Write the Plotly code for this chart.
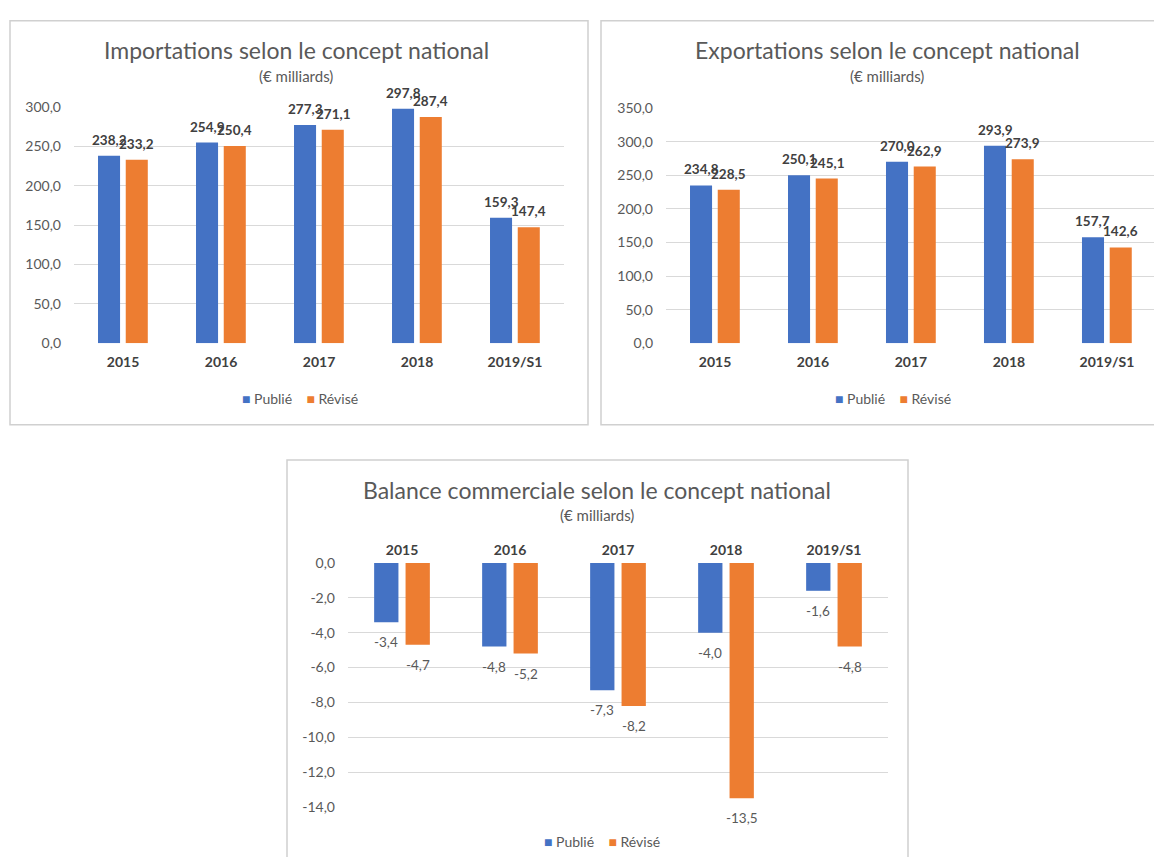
import plotly.graph_objects as go

# ---------------- data ----------------
categories = ["2015", "2016", "2017", "2018", "2019/S1"]
imports_publie = [238.2, 254.9, 277.3, 297.8, 159.3]
imports_revise = [233.2, 250.4, 271.1, 287.4, 147.4]
exports_publie = [234.8, 250.1, 270.0, 293.9, 157.7]
exports_revise = [228.5, 245.1, 262.9, 273.9, 142.6]
balance_publie = [-3.4, -4.8, -7.3, -4.0, -1.6]
balance_revise = [-4.7, -5.2, -8.2, -13.5, -4.8]
imports_ticks = [0, 50, 100, 150, 200, 250, 300]
exports_ticks = [0, 50, 100, 150, 200, 250, 300, 350]
balance_ticks = [0, -2, -4, -6, -8, -10, -12, -14]
series_names = ["Publié", "Révisé"]

W, H = 1154, 865
BLUE = "#4472C4"
ORANGE = "#ED7D31"
GRID = "#D9D9D9"
GREY = "#595959"
DARK = "#404040"
FONT = "Lato"


def fr(v):
    return f"{v:.1f}".replace(".", ",")


def px(x):
    return x / W


def py(y):
    return 1 - y / H


fig = go.Figure()

panels = [
    dict(ax="", pub=imports_publie, rev=imports_revise, bold=True,
         xdom=(74, 564), ydom=(341, 100), yr=[0, 300], ticks=imports_ticks,
         bw=0.225, off=(-0.255, 0.028), xrange=[-0.5, 4.5]),
    dict(ax="2", pub=exports_publie, rev=exports_revise, bold=True,
         xdom=(666, 1154), ydom=(341, 101), yr=[0, 350], ticks=exports_ticks,
         bw=0.225, off=(-0.255, 0.028), xrange=[-0.5, 4.48]),
    dict(ax="3", pub=balance_publie, rev=balance_revise, bold=False,
         xdom=(348, 888), ydom=(814, 565), yr=[-14, 0], ticks=balance_ticks,
         bw=0.225, off=(-0.258, 0.033), xrange=[-0.5, 4.5]),
]

for i, p in enumerate(panels):
    xa_len = p["xdom"][1] - p["xdom"][0]
    cat_px = xa_len / (p["xrange"][1] - p["xrange"][0])
    for j, (vals, color) in enumerate([(p["pub"], BLUE), (p["rev"], ORANGE)]):
        fig.add_trace(go.Bar(
            x=categories, y=vals, name=series_names[j],
            marker=dict(color=color, line=dict(width=0)),
            width=p["bw"], offset=p["off"][j],
            xaxis="x" + p["ax"], yaxis="y" + p["ax"],
            showlegend=False, hoverinfo="x+y+name",
        ))
        # data labels placed at each bar end (category index on the category axis)
        shift = (p["off"][j] + p["bw"] / 2) * cat_px
        for k, v in enumerate(vals):
            fig.add_annotation(
                x=k, y=v, xref="x" + p["ax"], yref="y" + p["ax"],
                text=fr(v), showarrow=False, xanchor="center", yanchor="middle",
                xshift=shift, yshift=16 if v >= 0 else -20,
                font=dict(family=FONT, size=13.5,
                          color=DARK if p["bold"] else GREY,
                          weight="bold" if p["bold"] else "normal"),
            )
    xa = dict(domain=[px(p["xdom"][0]), px(p["xdom"][1])], range=p["xrange"],
              type="category", categoryorder="array", categoryarray=categories,
              showgrid=False, zeroline=False, showline=False,
              ticks="", tickfont=dict(family=FONT, size=14, color=DARK, weight="bold"),
              anchor="y" + p["ax"], fixedrange=True)
    if p["ax"] == "3":
        xa.update(side="top", ticklabelstandoff=4)
    else:
        xa.update(ticklabelstandoff=9)
    ya = dict(domain=[py(p["ydom"][0]), py(p["ydom"][1])], range=p["yr"],
              tickvals=p["ticks"], ticktext=[fr(t) for t in p["ticks"]],
              showgrid=True, gridcolor=GRID, gridwidth=1, zeroline=False,
              showline=False, ticks="", ticklabelstandoff=12,
              tickfont=dict(family=FONT, size=14, color=GREY),
              anchor="x" + p["ax"], fixedrange=True)
    fig.update_layout(**{"xaxis" + p["ax"]: xa, "yaxis" + p["ax"]: ya})

# panel borders (third panel continues past the bottom edge)
BORDER = dict(color="#D0D0D0", width=1.5)
fig.add_shape(type="rect", xref="paper", yref="paper",
              x0=px(10), x1=px(588), y0=py(424), y1=py(12), line=BORDER, layer="below")
fig.add_shape(type="path", xref="paper", yref="paper",
              path=f"M {px(1160)},{py(424)} L {px(601)},{py(424)} L {px(601)},{py(12)} L {px(1160)},{py(12)}",
              line=BORDER, layer="below")
fig.add_shape(type="path", xref="paper", yref="paper",
              path=f"M {px(287)},{py(865)} L {px(287)},{py(460)} L {px(908)},{py(460)} L {px(908)},{py(865)}",
              line=BORDER, layer="below")

titles = [
    ("Importations selon le concept national", 296, 42, 68),
    ("Exportations selon le concept national", 887, 42, 68),
    ("Balance commerciale selon le concept national", 597, 491, 516),
]
for t, cx, ty, sy in titles:
    fig.add_annotation(text=t, x=px(cx), y=py(ty), xref="paper", yref="paper",
                       showarrow=False, xanchor="center", yanchor="middle",
                       font=dict(family=FONT, size=23, color=GREY, weight="normal"))
    fig.add_annotation(text="(€ milliards)", x=px(cx), y=py(sy), xref="paper", yref="paper",
                       showarrow=False, xanchor="center", yanchor="middle",
                       font=dict(family=FONT, size=15, color=GREY))

# compact legends (one per panel)
NB = "\u00a0"
legend_text = (f"<span style='color:{BLUE}'>■</span>{NB}{series_names[0]}{NB*4}"
               f"<span style='color:{ORANGE}'>■</span>{NB}{series_names[1]}")
for cx, cy in [(300, 397), (893, 397), (602, 849)]:
    fig.add_annotation(text=legend_text, x=px(cx), y=py(cy), xref="paper", yref="paper",
                       showarrow=False, xanchor="center", yanchor="middle",
                       font=dict(family=FONT, size=14, color=GREY))

fig.update_layout(
    width=W, height=H,
    margin=dict(l=0, r=0, t=0, b=0),
    paper_bgcolor="white", plot_bgcolor="white",
    separators=", ",
    barmode="group",
    showlegend=False,
    font=dict(family=FONT, color=GREY),
)

fig.write_html("out.html")
